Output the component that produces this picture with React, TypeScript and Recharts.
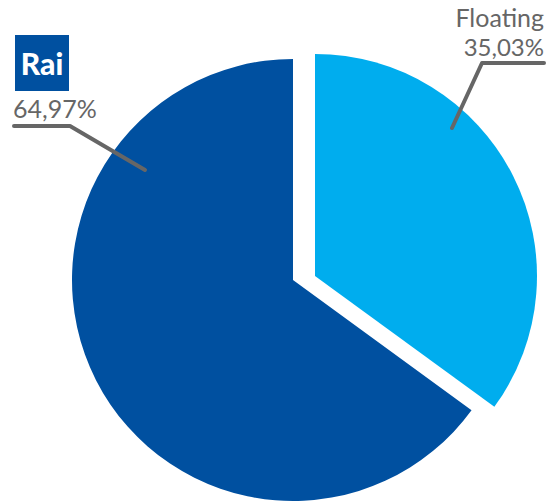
import React from 'react';
import { PieChart, Pie, Cell } from 'recharts';

const categories = ['Rai', 'Floating'];
const values = [64.97, 35.03];
const valueLabels = ['64,97%', '35,03%'];

const DARK = '#0050A0';
const LIGHT = '#00ADEE';
const GRAY = '#666666';
const FONT = 'Lato, "Open Sans", sans-serif';

const data = categories.map((name, i) => ({ name, value: values[i], text: valueLabels[i] }));

const raiLabel = (props: any) => {
  if (props.index !== 0) return null;
  const cx = Number(props.cx);
  const cy = Number(props.cy);
  return (
    <g>
      <rect x={cx - 278} y={cy - 245} width={54} height={56} fill={DARK} />
      <text x={cx - 251} y={cy - 205} textAnchor="middle" fill="#ffffff" fontFamily={FONT} fontWeight={900} fontSize={30}>
        Rai
      </text>
      <text x={cx - 280} y={cy - 162} textAnchor="start" fill={GRAY} fontFamily={FONT} fontWeight={400} fontSize={25}>
        {valueLabels[0]}
      </text>
      <polyline
        points={`${cx - 279},${cy - 154} ${cx - 223},${cy - 154} ${cx - 148},${cy - 110}`}
        fill="none"
        stroke={GRAY}
        strokeWidth={4}
        strokeLinecap="round"
        strokeLinejoin="round"
      />
    </g>
  );
};

const floatLabel = (props: any) => {
  if (props.index !== 1) return null;
  const cx = Number(props.cx);
  const cy = Number(props.cy);
  return (
    <g>
      <text x={cx + 229} y={cy - 249} textAnchor="end" fill={GRAY} fontFamily={FONT} fontWeight={400} fontSize={25}>
        {categories[1]}
      </text>
      <text x={cx + 229} y={cy - 220} textAnchor="end" fill={GRAY} fontFamily={FONT} fontWeight={400} fontSize={24}>
        {valueLabels[1]}
      </text>
      <polyline
        points={`${cx + 229},${cy - 213} ${cx + 167},${cy - 213} ${cx + 137},${cy - 148}`}
        fill="none"
        stroke={GRAY}
        strokeWidth={4}
        strokeLinecap="round"
        strokeLinejoin="round"
      />
    </g>
  );
};

export default function App() {
  return (
    <div style={{ position: 'absolute', left: 0, top: 0, width: 547, height: 502, background: '#ffffff' }}>
      <PieChart width={547} height={502} margin={{ top: 0, right: 0, bottom: 0, left: 0 }}>
        <Pie
          data={data}
          dataKey="value"
          nameKey="name"
          cx={293}
          cy={280}
          outerRadius={221}
          innerRadius={0}
          startAngle={90}
          endAngle={450}
          stroke="none"
          label={raiLabel}
          labelLine={false}
          isAnimationActive={false}
        >
          <Cell fill={DARK} />
          <Cell fill="transparent" />
        </Pie>
        <Pie
          data={data}
          dataKey="value"
          nameKey="name"
          cx={315}
          cy={276}
          outerRadius={222}
          innerRadius={0}
          startAngle={90}
          endAngle={450}
          stroke="none"
          label={floatLabel}
          labelLine={false}
          isAnimationActive={false}
        >
          <Cell fill="transparent" />
          <Cell fill={LIGHT} />
        </Pie>
      </PieChart>
    </div>
  );
}
